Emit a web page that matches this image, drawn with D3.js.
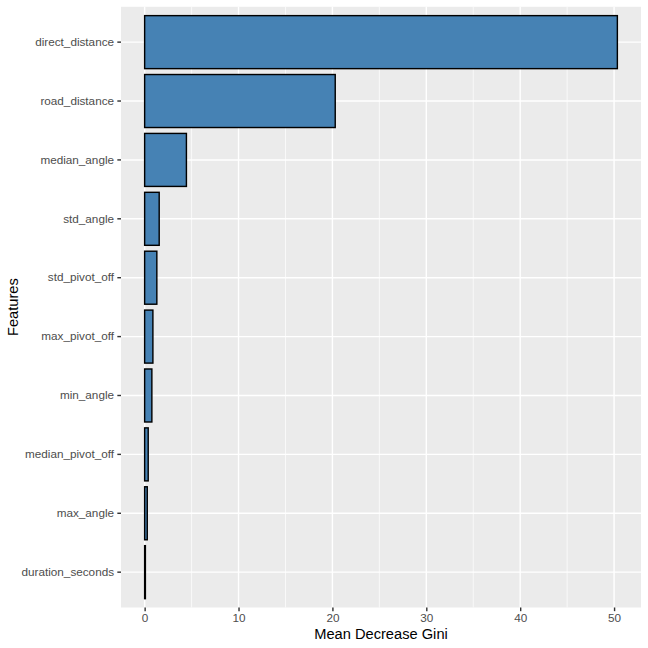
<!DOCTYPE html>
<html>
<head>
<meta charset="utf-8">
<script src="https://cdn.jsdelivr.net/npm/d3@7"></script>
<style>
  html, body { margin: 0; padding: 0; background: #ffffff; }
  svg { display: block; }
</style>
</head>
<body>
<script>
const features = ["direct_distance", "road_distance", "median_angle", "std_angle", "std_pivot_off",
                  "max_pivot_off", "min_angle", "median_pivot_off", "max_angle", "duration_seconds"];
const giniValues = [50.35, 20.3, 4.45, 1.55, 1.3, 0.88, 0.77, 0.38, 0.28, 0.08];
const xTicks = [0, 10, 20, 30, 40, 50];
const xMinor = [5, 15, 25, 35, 45];
const xTitle = "Mean Decrease Gini";
const yTitle = "Features";

const W = 648, H = 648;
const panel = { left: 121, right: 641, top: 6.8, bottom: 607.5 };

const svg = d3.select("body").append("svg").attr("width", W).attr("height", H);

const maxV = d3.max(giniValues);
const pad = (maxV - 0) * 0.05;
const x = d3.scaleLinear().domain([0 - pad, maxV + pad]).range([panel.left, panel.right]);
const y = d3.scaleBand().domain(features).range([panel.top, panel.bottom])
  .paddingInner(0.1).paddingOuter(0.15);

svg.append("rect")
  .attr("x", panel.left).attr("y", panel.top)
  .attr("width", panel.right - panel.left).attr("height", panel.bottom - panel.top)
  .attr("fill", "#EBEBEB");

// minor grid
svg.append("g").selectAll("line").data(xMinor).join("line")
  .attr("x1", d => x(d)).attr("x2", d => x(d))
  .attr("y1", panel.top).attr("y2", panel.bottom)
  .attr("stroke", "#ffffff").attr("stroke-width", 0.71);

// major grid
svg.append("g").selectAll("line").data(xTicks).join("line")
  .attr("x1", d => x(d)).attr("x2", d => x(d))
  .attr("y1", panel.top).attr("y2", panel.bottom)
  .attr("stroke", "#ffffff").attr("stroke-width", 1.42);
svg.append("g").selectAll("line").data(features).join("line")
  .attr("y1", d => y(d) + y.bandwidth() / 2).attr("y2", d => y(d) + y.bandwidth() / 2)
  .attr("x1", panel.left).attr("x2", panel.right)
  .attr("stroke", "#ffffff").attr("stroke-width", 1.42);

// bars
svg.append("g").selectAll("rect").data(features).join("rect")
  .attr("x", x(0))
  .attr("y", d => y(d))
  .attr("width", (d, i) => x(giniValues[i]) - x(0))
  .attr("height", y.bandwidth())
  .attr("fill", "#4682B4")
  .attr("stroke", "#000000")
  .attr("stroke-width", 1.42);

// x axis
const xAxis = svg.append("g")
  .attr("transform", `translate(0,${panel.bottom})`)
  .call(d3.axisBottom(x).tickValues(xTicks).tickFormat(d3.format("d")).tickSizeInner(3.67).tickSizeOuter(0).tickPadding(2.4));
xAxis.select(".domain").remove();
xAxis.selectAll(".tick line").attr("stroke", "#333333").attr("stroke-width", 1.42);
xAxis.selectAll(".tick text")
  .attr("fill", "#4D4D4D")
  .style("font-family", "'Liberation Sans', Arial, Helvetica, sans-serif")
  .style("font-size", "11.73px");

// y axis
const yAxis = svg.append("g")
  .attr("transform", `translate(${panel.left},0)`)
  .call(d3.axisLeft(y).tickSizeInner(3.67).tickSizeOuter(0).tickPadding(3.3));
yAxis.select(".domain").remove();
yAxis.selectAll(".tick line").attr("stroke", "#333333").attr("stroke-width", 1.42);
yAxis.selectAll(".tick text")
  .attr("fill", "#4D4D4D")
  .style("font-family", "'Liberation Sans', Arial, Helvetica, sans-serif")
  .style("font-size", "11.73px");

// titles
svg.append("text")
  .attr("x", (panel.left + panel.right) / 2)
  .attr("y", 638.5)
  .attr("text-anchor", "middle")
  .attr("fill", "#000000")
  .style("font-family", "'Liberation Sans', Arial, Helvetica, sans-serif")
  .style("font-size", "14.67px")
  .text(xTitle);

svg.append("text")
  .attr("transform", `translate(18,${(panel.top + panel.bottom) / 2}) rotate(-90)`)
  .attr("text-anchor", "middle")
  .attr("fill", "#000000")
  .style("font-family", "'Liberation Sans', Arial, Helvetica, sans-serif")
  .style("font-size", "14.67px")
  .text(yTitle);
</script>
</body>
</html>
